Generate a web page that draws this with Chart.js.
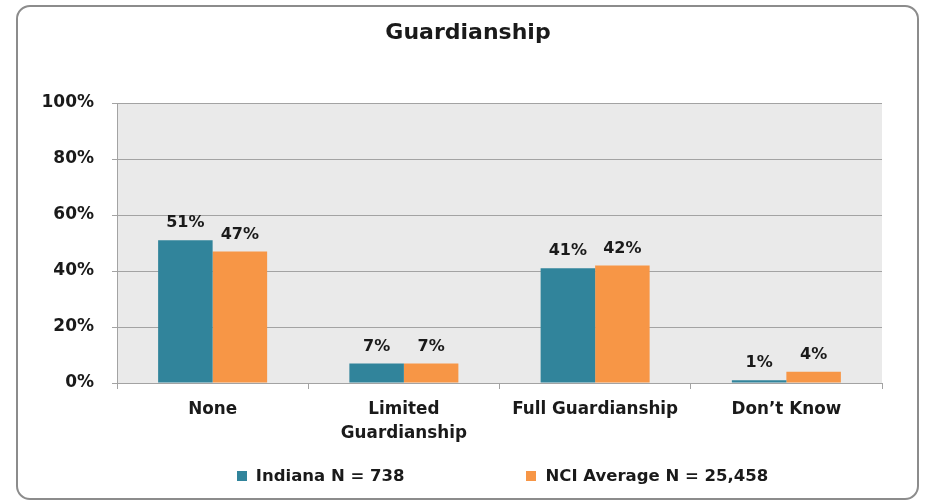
<!DOCTYPE html>
<html>
<head>
<meta charset="utf-8">
<title>Guardianship</title>
<script src="https://cdn.jsdelivr.net/npm/chart.js@4.4.0/dist/chart.umd.min.js"></script>
<style>
  html, body { margin: 0; padding: 0; background: #ffffff; }
  #wrap { position: relative; width: 928px; height: 502px; }
  #frame {
    position: absolute; left: 16px; top: 5px; width: 899px; height: 491px;
    border: 2px solid #8c8c8c; border-radius: 14px; pointer-events: none;
  }
  canvas { position: absolute; left: 0; top: 0; }
</style>
</head>
<body>
<div id="wrap">
  <canvas id="chart" width="928" height="502"></canvas>
  <div id="frame"></div>
</div>
<script>
// Dados do gráfico
const chartTitle = 'Guardianship';
const categories = [['None'], ['Limited', 'Guardianship'], ['Full Guardianship'], ['Don\u2019t Know']];
const indianaValues = [51, 7, 41, 1];
const nciValues = [47, 7, 42, 4];
const seriesLabels = ['Indiana N = 738', 'NCI Average N = 25,458'];
const yTicks = [0, 20, 40, 60, 80, 100];

const FONT = "'DejaVu Sans', sans-serif";
const colors = {
  teal: '#31849B',
  orange: '#F79646',
  plotBg: '#EAEAEA',
  grid: '#A3A3A3',
  text: '#1a1a1a'
};

// Fundo cinza da área do gráfico
const plotBackground = {
  id: 'plotBackground',
  beforeDraw(chart) {
    const a = chart.chartArea;
    const ctx = chart.ctx;
    ctx.save();
    ctx.fillStyle = colors.plotBg;
    ctx.fillRect(a.left, a.top, a.right - a.left, a.bottom - a.top);
    ctx.restore();
  }
};

// Título centralizado na moldura
const frameTitle = {
  id: 'frameTitle',
  afterDraw(chart) {
    const ctx = chart.ctx;
    ctx.save();
    ctx.font = 'bold 22px ' + FONT;
    ctx.fillStyle = colors.text;
    ctx.textAlign = 'center';
    ctx.textBaseline = 'middle';
    ctx.fillText(chartTitle, chart.width / 2 + 4, 33);
    ctx.restore();
  }
};

// Rótulos de valor acima das barras
const valueLabels = {
  id: 'valueLabels',
  afterDatasetsDraw(chart) {
    const ctx = chart.ctx;
    ctx.save();
    ctx.font = 'bold 16px ' + FONT;
    ctx.fillStyle = colors.text;
    ctx.textAlign = 'center';
    ctx.textBaseline = 'middle';
    chart.data.datasets.forEach(function(ds, i) {
      chart.getDatasetMeta(i).data.forEach(function(bar, j) {
        ctx.fillText(ds.data[j] + '%', bar.x, bar.y - 17);
      });
    });
    ctx.restore();
  }
};

// Legenda desenhada abaixo do eixo
const bottomLegend = {
  id: 'bottomLegend',
  afterDraw(chart) {
    const ctx = chart.ctx;
    const box = 10, gapText = 9, gapItems = 122;
    const y = 477;
    ctx.save();
    ctx.font = 'bold 16.5px ' + FONT;
    ctx.textBaseline = 'middle';
    const items = chart.data.datasets.map(function(ds) {
      return { label: ds.label, color: ds.backgroundColor, w: box + gapText + ctx.measureText(ds.label).width };
    });
    const total = items.reduce(function(s, it) { return s + it.w; }, 0) + gapItems * (items.length - 1);
    const center = (chart.chartArea.left + chart.chartArea.right) / 2 + 3;
    let x = center - total / 2;
    items.forEach(function(it) {
      ctx.fillStyle = it.color;
      ctx.fillRect(Math.round(x), y - box / 2 - 1, box, box);
      ctx.fillStyle = colors.text;
      ctx.fillText(it.label, x + box + gapText, y);
      x += it.w + gapItems;
    });
    ctx.restore();
  }
};

new Chart(document.getElementById('chart').getContext('2d'), {
  type: 'bar',
  data: {
    labels: categories,
    datasets: [
      { label: seriesLabels[0], data: indianaValues, backgroundColor: colors.teal },
      { label: seriesLabels[1], data: nciValues, backgroundColor: colors.orange }
    ]
  },
  options: {
    responsive: false,
    animation: false,
    layout: { padding: { left: 0, right: 46, top: 103, bottom: 59 } },
    datasets: { bar: { categoryPercentage: 0.57, barPercentage: 1.0 } },
    plugins: {
      legend: { display: false },
      tooltip: { enabled: false },
      title: { display: false }
    },
    scales: {
      x: {
        afterFit(scale) { scale.height = 60; },
        grid: { offset: true, drawOnChartArea: false, tickLength: 6, color: colors.grid },
        border: { color: colors.grid },
        ticks: {
          color: colors.text,
          padding: 8,
          maxRotation: 0,
          font: { family: FONT, size: 16.8, weight: 'bold', lineHeight: 1.45 }
        }
      },
      y: {
        min: 0,
        max: 100,
        afterFit(scale) { scale.width = 117; },
        afterBuildTicks(scale) { scale.ticks = yTicks.map(function(v) { return { value: v }; }); },
        grid: { color: colors.grid, tickLength: 5 },
        border: { color: colors.grid },
        ticks: {
          color: colors.text,
          padding: 18,
          font: { family: FONT, size: 17, weight: 'bold' },
          callback: function(v) { return v + '%'; }
        }
      }
    }
  },
  plugins: [plotBackground, valueLabels, bottomLegend, frameTitle]
});
</script>
</body>
</html>
